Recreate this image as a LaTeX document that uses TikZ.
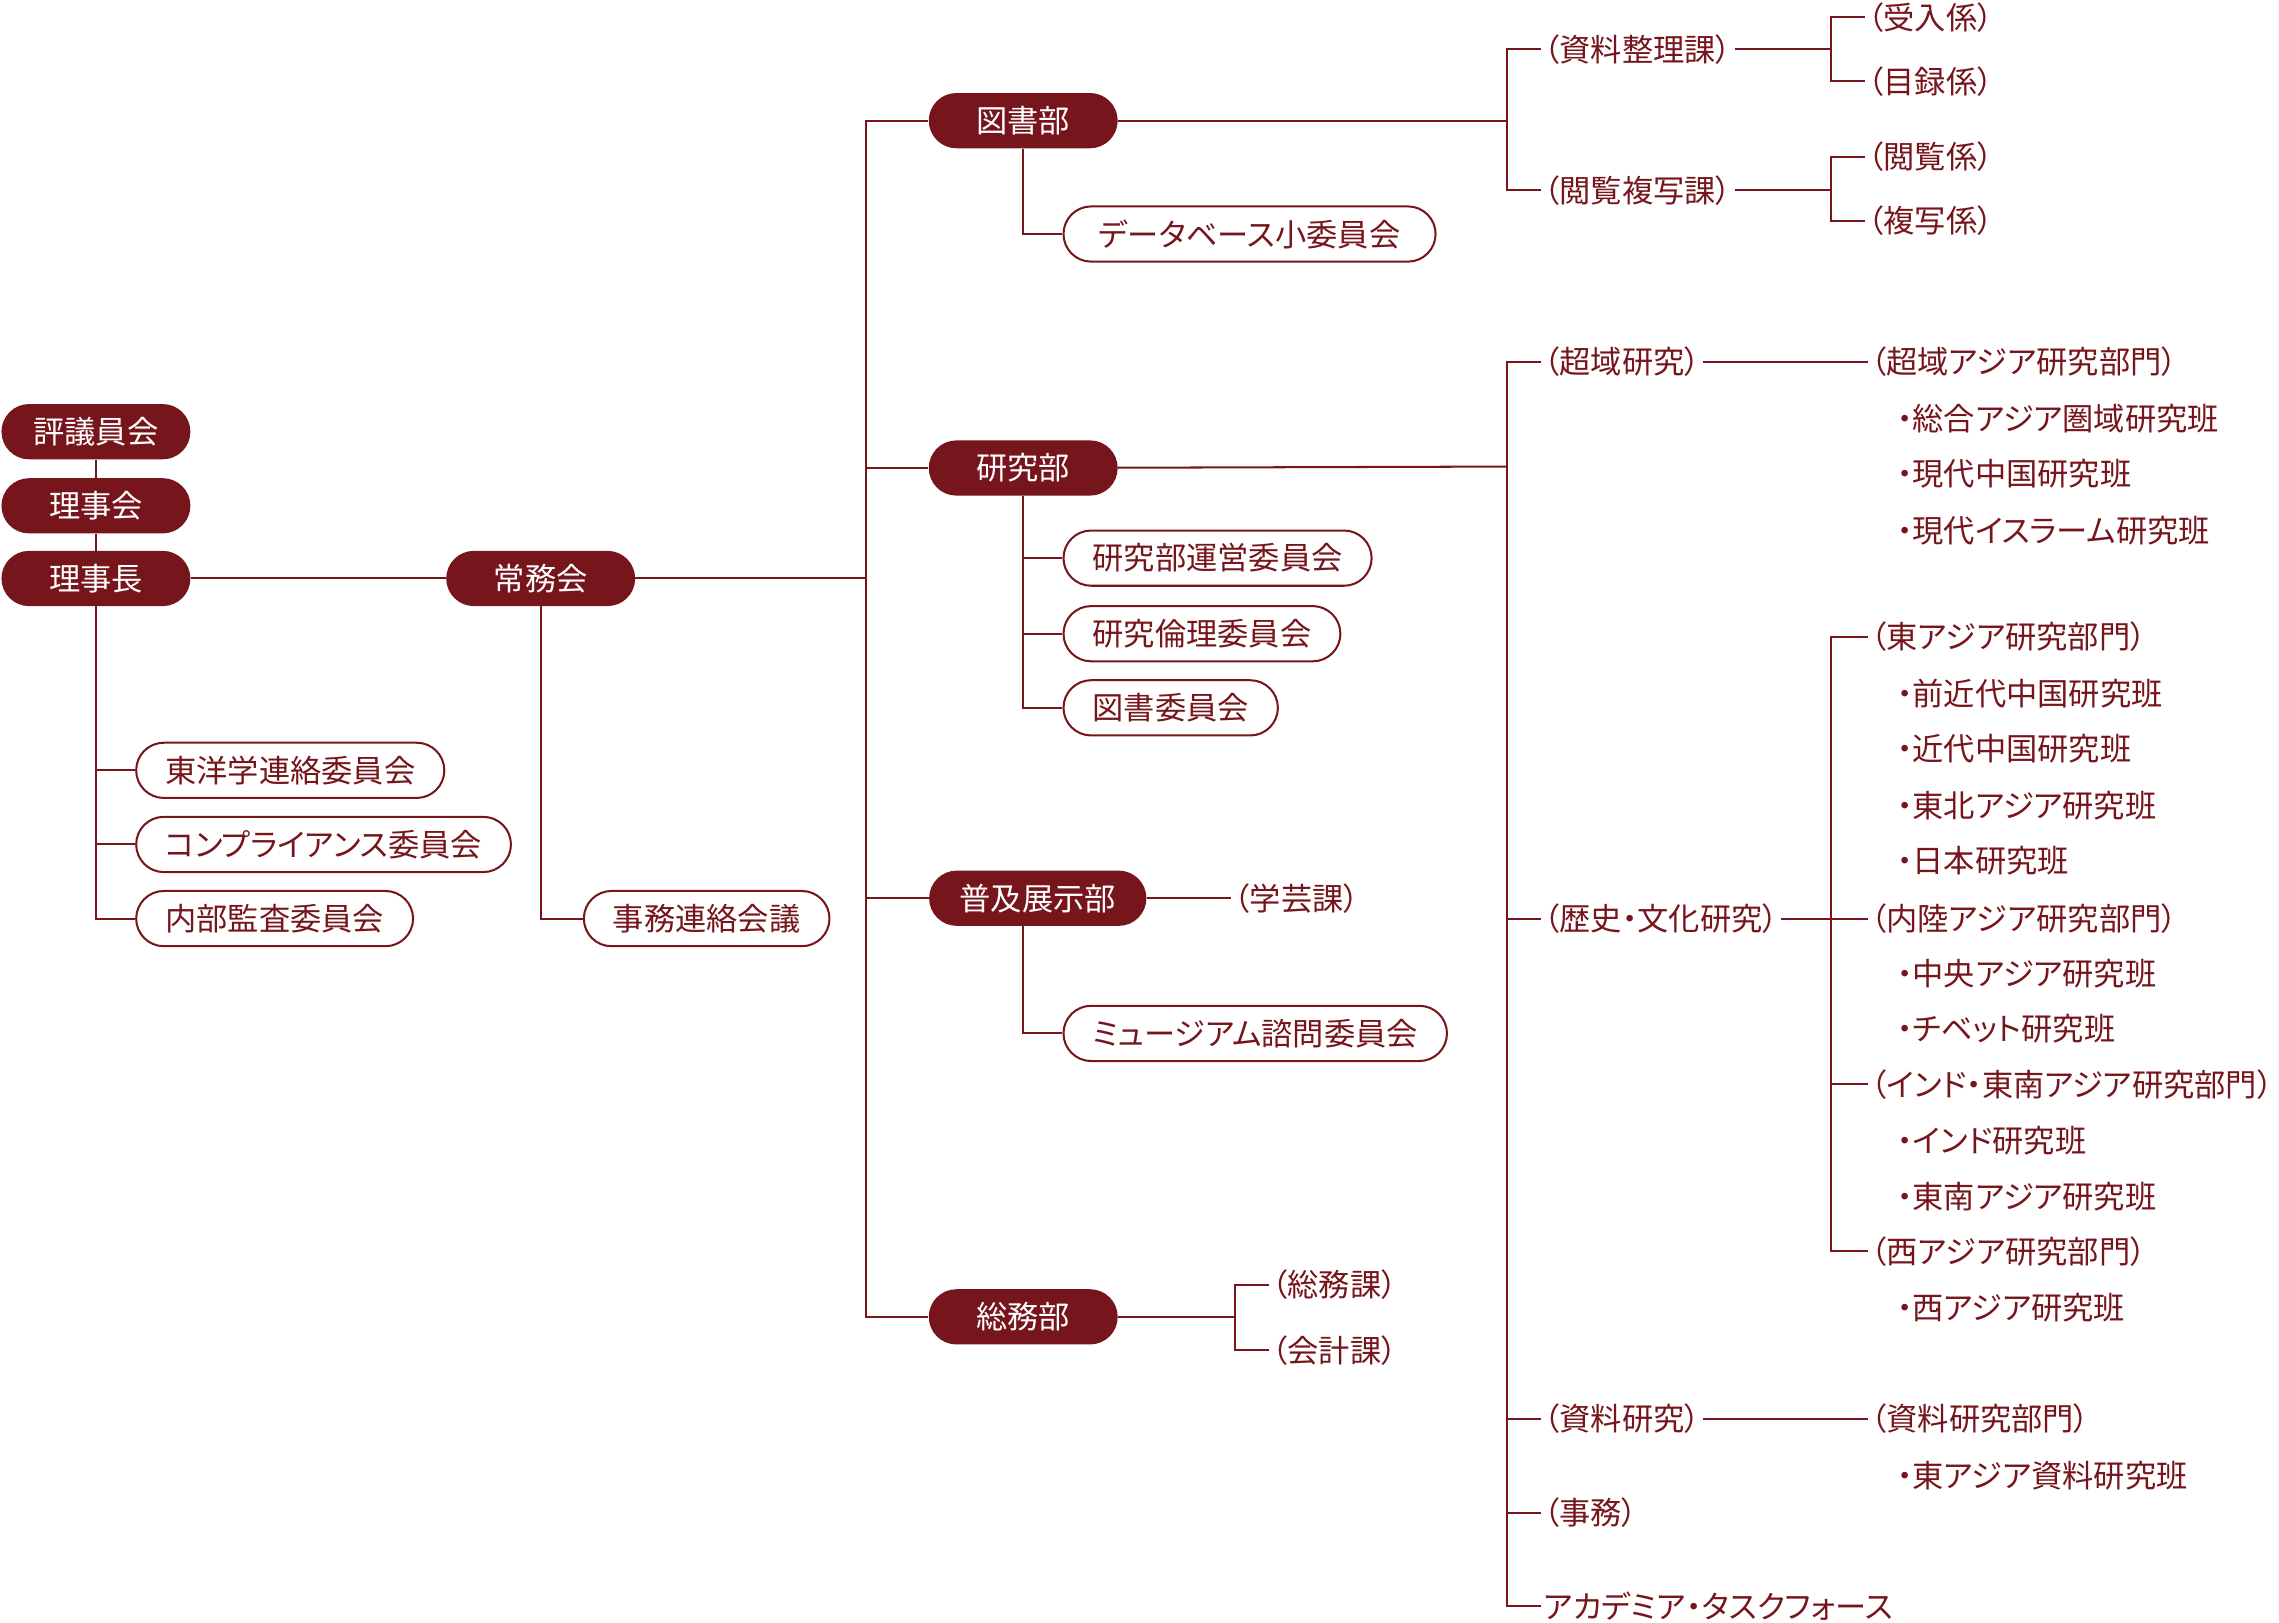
\documentclass[tikz,border=0pt]{standalone}
\usepackage{fontspec}
\setmainfont{Noto Sans CJK JP}[RawFeature={+palt}]
\usetikzlibrary{calc}
\definecolor{enji}{HTML}{76161C}

\begin{document}
\begin{tikzpicture}[x=1pt, y=-1pt, font=\fontsize{21.5pt}{26pt}\selectfont,
    bu/.style={fill=enji, text=white, rounded corners=19pt, minimum height=38pt,
      minimum width=130pt, inner xsep=21pt, inner ysep=0pt},
    iinkai/.style={draw=enji, line width=1.4pt, fill=white, text=enji, rounded corners=19pt,
      minimum height=38pt, inner xsep=20pt, inner ysep=0pt, anchor=west},
    ka/.style={text=enji, inner xsep=2pt, inner ysep=0pt, anchor=west},
    sen/.style={draw=enji, line width=1.4pt}]
  \useasboundingbox (0,0) rectangle (1568,1116.6);

  % top of the tree
  \node[bu] (hyogi) at (66,297) {評議員会};
  \node[bu] (riji) at (66,348) {理事会};
  \node[bu] (rijicho) at (66,398) {理事長};
  \node[bu] (jomu) at (372,398) {常務会};
  \node[iinkai] (toyo) at (93,530) {東洋学連絡委員会};
  \node[iinkai] (compl) at (93,581) {コンプライアンス委員会};
  \node[iinkai] (naibu) at (93,632) {内部監査委員会};
  \node[iinkai] (jimuren) at (401,632) {事務連絡会議};
  \draw[sen] (hyogi) -- (riji) -- (rijicho) -- (jomu);
  \foreach \n in {toyo, compl, naibu}
    \draw[sen] (rijicho.south) |- (\n.west);
  \draw[sen] (jomu.south) |- (jimuren.west);

  % departments
  \coordinate (trunk) at (596,398);
  \node[bu] (tosho) at (704,83) {図書部};
  \node[bu] (kenkyu) at (704,322) {研究部};
  \node[bu] (fukyu) at (714,618) {普及展示部};
  \node[bu] (somu) at (704,906) {総務部};
  \draw[sen] (jomu) -- (trunk);
  \draw[sen] (tosho.west) -| (trunk) |- (somu.west);
  \draw[sen] (trunk) |- (kenkyu.west);
  \draw[sen] (trunk) |- (fukyu.west);

  \node[iinkai, minimum width=256pt] (db) at (731,161) {データベース小委員会};
  \node[iinkai] (unei) at (731,384) {研究部運営委員会};
  \node[iinkai] (rinri) at (731,436) {研究倫理委員会};
  \node[iinkai] (toshoi) at (731,487) {図書委員会};
  \node[iinkai] (museum) at (731,711) {ミュージアム諮問委員会};
  \draw[sen] (tosho) |- (db.west);
  \foreach \n in {unei, rinri, toshoi}
    \draw[sen] (kenkyu) |- (\n.west);
  \draw[sen] (fukyu.south -| kenkyu) |- (museum.west);

  % library sections
  \coordinate (tbr) at (1037,83);
  \node[ka] (seiri) at (1060,34) {（資料整理課）};
  \node[ka] (etsu) at (1060,131) {（閲覧複写課）};
  \draw[sen] (tosho) -- (tbr);
  \draw[sen] (seiri.west) -| (tbr) |- (etsu.west);
  \coordinate (sb1) at (1260,34);
  \coordinate (sb2) at (1260,131);
  \node[ka] (ukeire) at (1283,12) {（受入係）};
  \node[ka] (mokuroku) at (1283,56) {（目録係）};
  \node[ka] (etsuran) at (1283,108) {（閲覧係）};
  \node[ka] (fukusha) at (1283,152) {（複写係）};
  \draw[sen] (seiri) -- (sb1);
  \draw[sen] (ukeire.west) -| (sb1) |- (mokuroku.west);
  \draw[sen] (etsu) -- (sb2);
  \draw[sen] (etsuran.west) -| (sb2) |- (fukusha.west);

  % fukyu and somu sections
  \node[ka] (gakugei) at (847,618) {（学芸課）};
  \draw[sen] (fukyu) -- (gakugei);
  \coordinate (sbr) at (850,906);
  \node[ka] (somuka) at (873,884) {（総務課）};
  \node[ka] (kaikei) at (873,929) {（会計課）};
  \draw[sen] (somu) -- (sbr);
  \draw[sen] (somuka.west) -| (sbr) |- (kaikei.west);

  % research sections
  \coordinate (rbr) at (1037,321);
  \node[ka] (choiki) at (1060,249) {（超域研究）};
  \node[ka] (rekishi) at (1060,632) {（歴史・文化研究）};
  \node[ka] (shiryoken) at (1060,976) {（資料研究）};
  \node[ka] (jimu) at (1060,1041) {（事務）};
  \node[ka] (tf) at (1060,1105) {アカデミア・タスクフォース};
  \draw[sen] (kenkyu) -- (rbr);
  \draw[sen] (choiki.west) -| (rbr) |- (tf.west);
  \foreach \n in {rekishi, shiryoken, jimu}
    \draw[sen] (rbr) |- (\n.west);

  \node[ka] (choikibu) at (1285,249) {（超域アジア研究部門）};
  \node[ka] (higashi) at (1285,438) {（東アジア研究部門）};
  \node[ka] (nairiku) at (1285,632) {（内陸アジア研究部門）};
  \node[ka] (indo) at (1285,746) {（インド・東南アジア研究部門）};
  \node[ka] (nishi) at (1285,861) {（西アジア研究部門）};
  \node[ka] (shiryobu) at (1285,976) {（資料研究部門）};
  \draw[sen] (choiki) -- (choikibu);
  \draw[sen] (shiryoken) -- (shiryobu);
  \draw[sen] (rekishi) -- (nairiku);
  \coordinate (hb) at (1260,632);
  \draw[sen] (higashi.west) -| (hb) |- (nishi.west);
  \draw[sen] (hb) |- (indo.west);

  \foreach \y/\t [count=\i] in {288/総合アジア圏域研究班, 326/現代中国研究班,
      365/現代イスラーム研究班, 477/前近代中国研究班, 515/近代中国研究班,
      554/東北アジア研究班, 592/日本研究班, 670/中央アジア研究班,
      708/チベット研究班, 785/インド研究班, 823/東南アジア研究班,
      900/西アジア研究班, 1015/東アジア資料研究班}
    \node[ka] (han\i) at (1303,\y) {・\t};
\end{tikzpicture}
\end{document}
